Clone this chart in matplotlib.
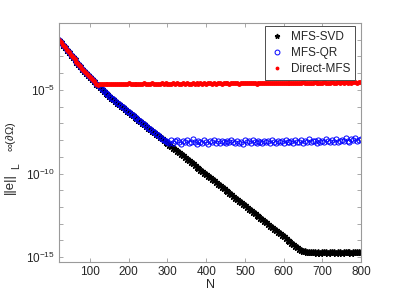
import matplotlib
matplotlib.use("Agg")
import matplotlib.pyplot as plt

plt.rcParams['font.family'] = ['Liberation Sans', 'DejaVu Sans']
plt.rcParams['mathtext.fontset'] = 'custom'
plt.rcParams['mathtext.rm'] = 'Liberation Sans'
plt.rcParams['mathtext.it'] = 'Liberation Sans:italic'
plt.rcParams['mathtext.bf'] = 'Liberation Sans:bold'

# ---------------- data (log10 of the error) ----------------
N = list(range(20, 805, 5))

svd_log10 = [
    -2.00, -2.15, -2.30, -2.45, -2.60, -2.75, -2.89, -3.03, -3.17, -3.31,
    -3.45, -3.59, -3.72, -3.85, -3.98, -4.11, -4.23, -4.36, -4.49, -4.62,
    -4.73, -4.84, -4.95, -5.06, -5.16, -5.26, -5.36, -5.46, -5.56, -5.66,
    -5.76, -5.86, -5.96, -6.05, -6.14, -6.23, -6.32, -6.41, -6.51, -6.60,
    -6.69, -6.79, -6.88, -6.97, -7.06, -7.16, -7.25, -7.34, -7.44, -7.53,
    -7.62, -7.72, -7.81, -7.90, -7.99, -8.09, -8.18, -8.27, -8.37, -8.46,
    -8.55, -8.65, -8.74, -8.83, -8.92, -9.02, -9.11, -9.20, -9.30, -9.39,
    -9.48, -9.58, -9.67, -9.76, -9.85, -9.95, -10.04, -10.13, -10.23, -10.32,
    -10.41, -10.51, -10.60, -10.69, -10.78, -10.88, -10.97, -11.06, -11.16, -11.25,
    -11.34, -11.44, -11.53, -11.62, -11.71, -11.81, -11.90, -11.99, -12.09, -12.18,
    -12.27, -12.37, -12.46, -12.55, -12.64, -12.74, -12.83, -12.92, -13.02, -13.11,
    -13.20, -13.30, -13.39, -13.48, -13.57, -13.67, -13.76, -13.85, -13.95, -14.04,
    -14.13, -14.22, -14.31, -14.40, -14.48, -14.55, -14.60, -14.64, -14.67, -14.69,
    -14.70, -14.71, -14.69, -14.72, -14.70, -14.73, -14.68, -14.71, -14.70, -14.72,
    -14.69, -14.71, -14.66, -14.72, -14.70, -14.68, -14.73, -14.70, -14.67, -14.71,
    -14.69, -14.72, -14.70, -14.68, -14.71, -14.69, -14.70,
]

# MFS-QR follows MFS-SVD up to N = 280, then levels off
qr_tail_log10 = [
    -7.92, -7.99, -8.05, -8.10,
    -8.15, -8.02, -8.20, -8.08, -7.98, -8.12, -8.22, -8.05, -8.14, -8.00,
    -8.18, -8.09, -7.96, -8.13, -8.21, -8.04, -8.10, -8.17, -8.01, -8.11,
    -8.23, -8.07, -8.13, -7.99, -8.16, -8.08, -8.19, -8.03, -8.12, -8.20,
    -8.06, -8.14, -7.97, -8.11, -8.18, -8.05, -8.15, -8.09, -8.21, -8.02,
    -8.13, -8.07, -8.17, -8.00, -8.12, -8.19, -8.06, -8.10, -8.16, -8.03,
    -8.14, -8.08, -8.20, -8.01, -8.11, -8.15, -8.04, -8.13, -8.07, -8.18,
    -7.99, -8.10, -8.14, -8.05, -8.17, -8.02, -8.09, -8.12, -7.98, -8.15,
    -8.06, -8.11, -7.96, -8.13, -8.04, -8.08, -8.16, -7.97, -8.10, -8.03,
    -8.12, -7.95, -8.07, -8.14, -8.00, -8.09, -7.93, -8.11, -8.04, -7.98,
    -8.08, -7.90, -8.06, -8.12, -7.96, -8.02, -7.88, -8.07, -7.97, -7.92,
]
qr_log10 = svd_log10[:53] + qr_tail_log10

# Direct-MFS follows MFS-SVD up to N = 115, then levels off
direct_tail_log10 = [
    -4.68, -4.66, -4.65, -4.67, -4.64, -4.66, -4.63, -4.65, -4.67, -4.64,
    -4.66, -4.63, -4.65, -4.62, -4.66, -4.64, -4.61, -4.65, -4.63, -4.66,
    -4.62, -4.64, -4.66, -4.63, -4.61, -4.65, -4.62, -4.64, -4.60, -4.63,
    -4.65, -4.62, -4.64, -4.61, -4.63, -4.60, -4.64, -4.62, -4.65, -4.61,
    -4.63, -4.60, -4.62, -4.64, -4.61, -4.63, -4.59, -4.62, -4.64, -4.60,
    -4.62, -4.61, -4.63, -4.59, -4.62, -4.60, -4.63, -4.61, -4.58, -4.62,
    -4.60, -4.62, -4.59, -4.61, -4.63, -4.58, -4.61, -4.60, -4.62, -4.59,
    -4.61, -4.58, -4.60, -4.62, -4.59, -4.61, -4.57, -4.60, -4.59, -4.61,
    -4.58, -4.60, -4.62, -4.58, -4.59, -4.61, -4.57, -4.60, -4.58, -4.59,
    -4.61, -4.57, -4.59, -4.58, -4.60, -4.56, -4.59, -4.58, -4.60, -4.57,
    -4.59, -4.56, -4.58, -4.60, -4.57, -4.58, -4.55, -4.59, -4.57, -4.58,
    -4.56, -4.58, -4.55, -4.57, -4.59, -4.56, -4.57, -4.55, -4.58, -4.56,
    -4.57, -4.54, -4.56, -4.58, -4.55, -4.57, -4.54, -4.56, -4.55, -4.57,
    -4.54, -4.56, -4.55, -4.53, -4.56, -4.54, -4.55,
]
direct_log10 = svd_log10[:20] + direct_tail_log10

series_labels = ['MFS-SVD', 'MFS-QR', 'Direct-MFS']
x_ticks = [100, 200, 300, 400, 500, 600, 700, 800]
y_decades = list(range(-15, 0))
y_labelled = [-15, -10, -5]

svd = [10.0 ** v for v in svd_log10]
qr = [10.0 ** v for v in qr_log10]
direct = [10.0 ** v for v in direct_log10]

# ---------------- figure ----------------
W, H = 399, 299
fig = plt.figure(figsize=(W / 100, H / 100), dpi=100)
ax = fig.add_axes([0.148, 0.1247, 0.757, 0.7983])

ax.semilogy(N, svd, linestyle='none', marker='*', color='black',
            markersize=5.0, markeredgewidth=1.0, label=series_labels[0])
ax.semilogy(N, qr, linestyle='none', marker='o', markerfacecolor='none',
            markeredgecolor='#0000ff', markersize=3.7, markeredgewidth=0.7,
            label=series_labels[1])
ax.semilogy(N, direct, linestyle='none', marker='.', color='#ff0000',
            markersize=5.0, label=series_labels[2])

ax.set_xlim(20, 800)
ax.set_ylim(10 ** -15.27, 10 ** -1.05)

ax.set_xticks(x_ticks)
ax.set_xticklabels([str(t) for t in x_ticks])
ax.set_yticks([10.0 ** k for k in y_decades])
ax.set_yticklabels([r'$\mathregular{10^{%d}}$' % k if k in y_labelled else ''
                    for k in y_decades])
ax.minorticks_off()

axis_gray = '#9a9a9a'
for sp in ax.spines.values():
    sp.set_color(axis_gray)
    sp.set_linewidth(0.8)
ax.tick_params(which='both', direction='in', top=True, right=True,
               length=3, width=0.6, color=axis_gray, labelsize=8.5,
               labelcolor='#262626', pad=3)

ax.set_xlabel('N', fontsize=9, color='#262626', labelpad=1)

# y label ||e||_{L^inf(dOmega)}, composed so the nested scripts stay legible
def fig_px(x, y):
    return x / W, 1 - y / H

lab_col = '#262626'
fig.text(*fig_px(10, 184), '||e||', rotation=90, fontsize=9.5, color=lab_col,
         ha='center', va='center')
fig.text(*fig_px(16, 166), 'L', rotation=90, fontsize=7.5, color=lab_col,
         ha='center', va='center')
fig.text(*fig_px(11.5, 137), r'$\infty(\partial\Omega)$', rotation=90,
         fontsize=8, color=lab_col, ha='center', va='center')

leg = ax.legend(loc='upper right', bbox_to_anchor=(0.981, 0.9875),
                borderaxespad=0, fontsize=8.5, numpoints=1,
                handlelength=1.2, handletextpad=0.65, borderpad=0.4,
                labelspacing=0.35, fancybox=False, framealpha=1,
                edgecolor='#4d4d4d')
leg.get_frame().set_linewidth(0.7)
for t in leg.get_texts():
    t.set_color('#262626')
for h in leg.legend_handles:
    h.set_markersize(3.5)

fig.savefig('out.png', dpi=100)
